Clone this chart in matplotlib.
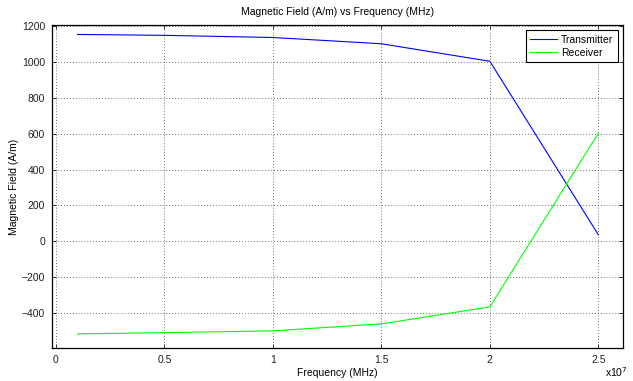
import matplotlib
matplotlib.use('Agg')
from matplotlib import pyplot as plt
from matplotlib.ticker import FuncFormatter

# frequency (Hz) and magnetic field (A/m)
freq = [1e6, 5e6, 1e7, 1.5e7, 2e7, 2.5e7]
transmitter = [1155, 1150, 1138, 1103, 1005, 35]
receiver = [-519, -512, -502, -463, -368, 603]

plt.rcParams['font.family'] = ['Liberation Sans', 'DejaVu Sans']
plt.rcParams['font.size'] = 7.5

fig = plt.figure(figsize=(6.33, 3.81), dpi=100)
ax = fig.add_axes([0.082, 0.087, 0.902, 0.847])

ax.plot(freq, transmitter, color='#0000ff', lw=0.8, label='Transmitter')
ax.plot(freq, receiver, color='#00ff00', lw=0.8, label='Receiver')

ax.set_xlim(-1.8e5, 2.613e7)
ax.set_ylim(-597, 1207)
ax.set_xticks([0, 0.5e7, 1e7, 1.5e7, 2e7, 2.5e7])
ax.set_yticks(range(-400, 1201, 200))
ax.xaxis.set_major_formatter(FuncFormatter(lambda v, p: '%g' % (v / 1e7)))
ax.tick_params(direction='in', length=3, width=0.6, top=True, right=True,
               labelsize=7.5, colors='#222222', pad=5)
ax.grid(True, linestyle=(0, (1, 2.5)), color='#444444', lw=0.6)
for s in ax.spines.values():
    s.set_linewidth(0.9)

ax.set_title('Magnetic Field (A/m) vs Frequency (MHz)', fontsize=7.5, pad=7)
ax.set_xlabel('Frequency (MHz)', fontsize=7.5, labelpad=2)
ax.set_ylabel('Magnetic Field (A/m)', fontsize=7.5)
ax.yaxis.set_label_coords(-0.058, 0.5)
fig.text(0.955, 0.005, 'x10$^7$', fontsize=7.5, ha='left', va='bottom')

leg = ax.legend(loc='upper right', fontsize=7.5, fancybox=False, framealpha=1,
                edgecolor='black', borderaxespad=0.5, handlelength=2.6,
                handletextpad=0.4, labelspacing=0.3)
leg.get_frame().set_linewidth(0.8)

plt.savefig('out.png', dpi=100)
